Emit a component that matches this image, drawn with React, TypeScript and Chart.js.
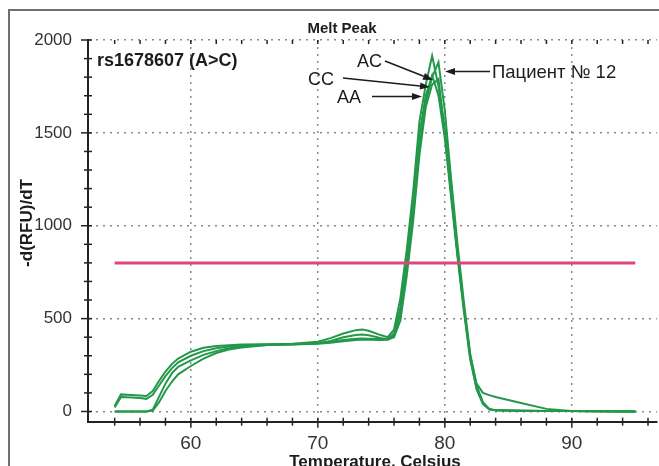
import React, { useEffect, useRef } from "react";
import { Chart, registerables } from "chart.js";

Chart.register(...registerables);

// ---- data ----
const temps = [54, 54.5, 55, 56, 56.5, 57, 57.5, 58, 58.5, 59, 60, 61, 62, 63, 64, 66, 68, 70, 71, 72, 73, 73.5, 74, 75, 75.5, 76, 76.5, 77, 77.5, 78, 78.5, 79, 79.5, 80, 80.5, 81, 81.5, 82, 82.5, 83, 83.5, 84, 85, 86, 88, 90, 92, 95];

const acValues = [30, 92, 90, 86, 83, 110, 165, 215, 255, 285, 322, 343, 353, 357, 360, 362, 365, 375, 395, 420, 438, 441, 435, 410, 400, 440, 610, 870, 1180, 1560, 1760, 1915, 1750, 1520, 1180, 850, 555, 290, 120, 40, 12, 6, 5, 4, 3, 2, 1, 0];
const ccValues = [22, 78, 76, 72, 68, 90, 140, 190, 232, 265, 300, 325, 340, 350, 355, 360, 362, 368, 380, 400, 412, 414, 410, 395, 390, 420, 560, 820, 1120, 1490, 1700, 1810, 1700, 1470, 1150, 830, 540, 280, 125, 45, 12, 6, 5, 4, 3, 2, 1, 0];
const aaValues = [0, 0, 0, 0, 0, 10, 80, 150, 205, 240, 275, 305, 325, 340, 350, 358, 360, 365, 370, 378, 385, 387, 386, 385, 386, 400, 490, 730, 1020, 1380, 1640, 1760, 1790, 1500, 1170, 850, 560, 300, 150, 100, 88, 78, 62, 46, 14, 3, 1, 0];
const patientValues = [0, 0, 0, 0, 0, 5, 50, 110, 160, 200, 245, 285, 315, 333, 345, 358, 362, 367, 374, 385, 392, 393, 392, 390, 392, 410, 520, 760, 1060, 1420, 1670, 1800, 1880, 1620, 1250, 900, 590, 310, 140, 50, 14, 7, 5, 4, 3, 2, 1, 0];

const thresholdTemps = [54, 95];
const thresholdValues = [800, 800];

const xTickValues = [54, 56, 58, 60, 62, 64, 66, 68, 70, 72, 74, 76, 78, 80, 82, 84, 86, 88, 90, 92, 94, 96];
const xTickLabels = ["60", "70", "80", "90"];
const yTickValues = [0, 100, 200, 300, 400, 500, 600, 700, 800, 900, 1000, 1100, 1200, 1300, 1400, 1500, 1600, 1700, 1800, 1900, 2000];
const yTickLabels = ["0", "500", "1000", "1500", "2000"];

const chartTitle = "Melt Peak";
const markerLabel = "rs1678607 (A>C)";
const xAxisTitle = "Temperature, Celsius";
const yAxisTitle = "-d(RFU)/dT";
const genotypeLabels = ["AC", "CC", "AA"];
const patientLabel = "Пациент № 12";

const FONT = "'Liberation Sans', Arial, Helvetica, sans-serif";
const GREEN = "#24984a";
const PINK = "#e0447c";

const toPoints = (xs: number[], ys: number[]) => xs.map((x, i) => ({ x, y: ys[i] }));

function arrow(ctx: CanvasRenderingContext2D, x1: number, y1: number, x2: number, y2: number) {
  const ang = Math.atan2(y2 - y1, x2 - x1);
  const len = 10;
  const hw = 3.6;
  const bx = x2 - len * Math.cos(ang);
  const by = y2 - len * Math.sin(ang);
  ctx.beginPath();
  ctx.moveTo(x1, y1);
  ctx.lineTo(bx, by);
  ctx.stroke();
  ctx.beginPath();
  ctx.moveTo(x2, y2);
  ctx.lineTo(bx + hw * Math.sin(ang), by - hw * Math.cos(ang));
  ctx.lineTo(bx - hw * Math.sin(ang), by + hw * Math.cos(ang));
  ctx.closePath();
  ctx.fill();
}

const decorPlugin = {
  id: "decor",
  beforeDraw(chart: any) {
    const ctx = chart.ctx as CanvasRenderingContext2D;
    ctx.save();
    ctx.fillStyle = "#ffffff";
    ctx.fillRect(0, 0, chart.width, chart.height);
    ctx.restore();
  },
  afterDraw(chart: any) {
    const ctx = chart.ctx as CanvasRenderingContext2D;
    const { left, top, bottom } = chart.chartArea;
    const xs = chart.scales.x;
    const ys = chart.scales.y;
    ctx.save();

    // frame
    ctx.strokeStyle = "#6f6f6f";
    ctx.lineWidth = 2;
    ctx.beginPath();
    ctx.moveTo(1, chart.height + 10);
    ctx.lineTo(1, 2);
    ctx.lineTo(chart.width + 10, 2);
    ctx.stroke();

    // tick marks
    ctx.strokeStyle = "#222";
    ctx.lineWidth = 1.5;
    const seg = (a: number, b: number, c: number, d: number) => {
      ctx.beginPath();
      ctx.moveTo(a, b);
      ctx.lineTo(c, d);
      ctx.stroke();
    };
    for (const v of xTickValues) {
      const px = xs.getPixelForValue(v);
      const major = v % 10 === 0;
      seg(px, bottom - 4, px, bottom + (major ? 6 : 4));
      seg(px, top, px, top + 4);
    }
    for (const v of yTickValues) {
      const py = ys.getPixelForValue(v);
      const major = v % 500 === 0;
      seg(left - (major ? 7 : 4), py, left + 4, py);
    }

    ctx.fillStyle = "#1c1c1c";
    ctx.textBaseline = "alphabetic";

    // chart title
    ctx.font = `bold 15px ${FONT}`;
    ctx.textAlign = "center";
    ctx.fillText(chartTitle, 334, 25);

    // marker label
    ctx.font = `bold 18px ${FONT}`;
    ctx.textAlign = "left";
    ctx.fillText(markerLabel, 89, 58);

    // genotype labels
    ctx.font = `18px ${FONT}`;
    ctx.fillText(genotypeLabels[0], 349, 59);
    ctx.fillText(genotypeLabels[1], 300, 77);
    ctx.fillText(genotypeLabels[2], 329, 95);
    ctx.font = `18.5px ${FONT}`;
    ctx.fillText(patientLabel, 484, 70);

    // arrows
    ctx.strokeStyle = "#1c1c1c";
    ctx.fillStyle = "#1c1c1c";
    ctx.lineWidth = 1.6;
    arrow(ctx, 377, 53, 425, 72);
    arrow(ctx, 335, 70, 422, 79);
    arrow(ctx, 364, 88.5, 414, 88.5);
    arrow(ctx, 482, 63.5, 437, 63.5);

    // axis titles
    ctx.font = `bold 17px ${FONT}`;
    ctx.textAlign = "center";
    ctx.fillText(xAxisTitle, 367, 458.5);
    ctx.save();
    ctx.translate(19, 215);
    ctx.rotate(-Math.PI / 2);
    ctx.textBaseline = "middle";
    ctx.fillText(yAxisTitle, 0, 0);
    ctx.restore();

    ctx.restore();
  },
};

export default function App() {
  const ref = useRef<HTMLCanvasElement | null>(null);

  useEffect(() => {
    if (!ref.current) return;
    const greenSet = (label: string, values: number[]) => ({
      label,
      data: toPoints(temps, values),
      borderColor: GREEN,
      borderWidth: 2,
      pointRadius: 0,
      tension: 0,
      fill: false,
      order: 1,
    });
    const chart = new Chart(ref.current, {
      type: "line",
      data: {
        datasets: [
          {
            label: "threshold",
            data: toPoints(thresholdTemps, thresholdValues),
            borderColor: PINK,
            borderWidth: 3,
            pointRadius: 0,
            tension: 0,
            fill: false,
            order: 0,
          },
          greenSet("AC", acValues),
          greenSet("CC", ccValues),
          greenSet("AA", aaValues),
          greenSet(patientLabel, patientValues),
        ],
      },
      options: {
        animation: false,
        responsive: false,
        events: [],
        layout: { padding: { top: 32, left: 0, right: 0, bottom: 0 } },
        plugins: { legend: { display: false }, tooltip: { enabled: false }, title: { display: false } },
        scales: {
          x: {
            type: "linear",
            min: 51.9,
            max: 96.7,
            afterBuildTicks: (scale: any) => {
              scale.ticks = xTickValues.map((v) => ({ value: v }));
            },
            afterFit: (scale: any) => {
              scale.height = 44.3;
            },
            ticks: {
              autoSkip: false,
              maxRotation: 0,
              padding: 11,
              color: "#333",
              font: { family: FONT, size: 19 },
              callback: (v: any) => {
                const s = String(v);
                return xTickLabels.includes(s) ? s : "";
              },
            },
            grid: {
              drawTicks: false,
              lineWidth: 1.5,
              color: (c: any) => (c.tick && c.tick.value % 10 === 0 ? "#8a8a8a" : "rgba(0,0,0,0)"),
            },
            border: { display: true, color: "#222", width: 2, dash: [2, 5] },
          },
          y: {
            type: "linear",
            min: -55,
            max: 2000,
            afterBuildTicks: (scale: any) => {
              scale.ticks = yTickValues.map((v) => ({ value: v }));
            },
            afterFit: (scale: any) => {
              scale.width = 80;
            },
            ticks: {
              autoSkip: false,
              padding: 16,
              color: "#333",
              font: { family: FONT, size: 17 },
              callback: (v: any) => {
                const s = String(v);
                return yTickLabels.includes(s) ? s : "";
              },
            },
            grid: {
              drawTicks: false,
              lineWidth: 1.5,
              color: (c: any) => (c.tick && c.tick.value % 500 === 0 ? "#8a8a8a" : "rgba(0,0,0,0)"),
            },
            border: { display: true, color: "#222", width: 2, dash: [2, 5] },
          },
        },
      },
      plugins: [decorPlugin],
    } as any);
    return () => chart.destroy();
  }, []);

  return (
    <div style={{ position: "absolute", left: 8, top: 8, width: 651, height: 458 }}>
      <canvas ref={ref} width={651} height={458} style={{ display: "block", width: 651, height: 458 }} />
    </div>
  );
}
